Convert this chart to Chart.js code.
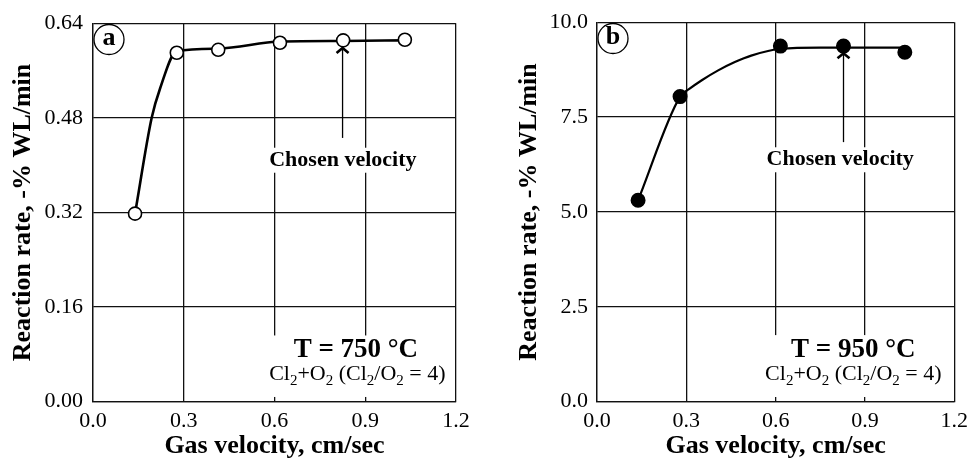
<!DOCTYPE html>
<html>
<head>
<meta charset="utf-8">
<script src="https://cdn.jsdelivr.net/npm/chart.js@4.4.1/dist/chart.umd.min.js"></script>
<style>
body{margin:0;background:#fff;}
.panel{position:absolute;top:0;width:487px;height:464px;}
</style>
</head>
<body>
<div class="panel" style="left:0"><canvas id="graficoA"></canvas></div>
<div class="panel" style="left:487px"><canvas id="graficoB"></canvas></div>
<script>

// panel a: T = 750 °C (measured points)
const velocidadA = [0.139, 0.277, 0.414, 0.618, 0.827, 1.031];
const tasaA = [0.318, 0.590, 0.595, 0.607, 0.611, 0.612];

// panel a: drawn curve
const curvaVelA = [0.139, 0.194, 0.222, 0.277, 0.414, 0.618, 0.827, 1.031];
const curvaTasaA = [0.318, 0.480, 0.530, 0.593, 0.597, 0.609, 0.610, 0.611];

// panel b: T = 950 °C (measured points)
const velocidadB = [0.138, 0.279, 0.616, 0.828, 1.034];
const tasaB = [5.31, 8.04, 9.37, 9.37, 9.21];

// panel b: drawn curve
const curvaVelB = [0.138, 0.279, 0.31, 0.352, 0.407, 0.463, 0.518, 0.617, 0.75, 0.83, 1.03];
const curvaTasaB = [5.31, 8.04, 8.24, 8.47, 8.73, 8.95, 9.12, 9.30, 9.33, 9.33, 9.33];

const ticksX = ["0.0", "0.3", "0.6", "0.9", "1.2"];
const ticksYA = ["0.00", "0.16", "0.32", "0.48", "0.64"];
const ticksYB = ["0.0", "2.5", "5.0", "7.5", "10.0"];

const fuente = "'Liberation Serif', 'Times New Roman', serif";

function puntos(xs, ys){
    return xs.map((x, i) => ({x: x, y: ys[i]}));
}

function textoQuimico(ctx, cx, y){
    const partes = [
        ["Cl", 0], ["2", 1], ["+O", 0], ["2", 1],
        [" (Cl", 0], ["2", 1], ["/O", 0], ["2", 1], [" = 4)", 0]
    ];
    const normal = "22px " + fuente;
    const sub = "15px " + fuente;
    let total = 0;
    partes.forEach(p => {
        ctx.font = p[1] ? sub : normal;
        total += ctx.measureText(p[0]).width;
    });
    let x = cx - total / 2;
    ctx.textAlign = "left";
    ctx.textBaseline = "alphabetic";
    partes.forEach(p => {
        ctx.font = p[1] ? sub : normal;
        ctx.fillText(p[0], x, p[1] ? y + 5 : y);
        x += ctx.measureText(p[0]).width;
    });
}

const notas = {
    id: "notas",
    beforeDatasetsDraw(chart, args, op){
        const ctx = chart.ctx;
        const area = chart.chartArea;
        const px = v => chart.scales.x.getPixelForValue(v);
        const py = v => chart.scales.y.getPixelForValue(v);
        ctx.save();

        // white box under the temperature text
        ctx.fillStyle = "#fff";
        ctx.fillRect(
            px(op.caja[0]), py(op.caja[3]),
            px(op.caja[1]) - px(op.caja[0]),
            py(op.caja[2]) - py(op.caja[3])
        );

        // chosen velocity label
        ctx.font = "bold 22px " + fuente;
        const w = ctx.measureText("Chosen velocity").width;
        const tx = px(op.texto[0]);
        const ty = py(op.texto[1]);
        ctx.fillRect(tx - w / 2 - 3, ty - 18, w + 6, 25);
        ctx.fillStyle = "#000";
        ctx.textAlign = "center";
        ctx.textBaseline = "alphabetic";
        ctx.fillText("Chosen velocity", tx, ty);

        // arrow
        const ax = px(op.flecha[0]);
        const ab = py(op.flecha[1]);
        const at = py(op.flecha[2]);
        ctx.strokeStyle = "#000";
        ctx.lineWidth = 1.3;
        ctx.beginPath();
        ctx.moveTo(ax, ab);
        ctx.lineTo(ax, at);
        ctx.stroke();
        ctx.lineWidth = 2.6;
        ctx.beginPath();
        ctx.moveTo(ax - 6, at + 5);
        ctx.lineTo(ax, at);
        ctx.lineTo(ax + 6, at + 5);
        ctx.stroke();

        // temperature and gas
        ctx.font = "bold 27px " + fuente;
        ctx.textAlign = "center";
        ctx.fillText(op.temp, px(op.tempPos[0]), py(op.tempPos[1]));
        textoQuimico(ctx, px(op.gasPos[0]), py(op.gasPos[1]));

        // circled letter
        ctx.lineWidth = 1.3;
        ctx.beginPath();
        ctx.arc(area.left + 16, area.top + 16.3, 15, 0, Math.PI * 2);
        ctx.fillStyle = "#fff";
        ctx.fill();
        ctx.stroke();
        ctx.fillStyle = "#000";
        ctx.font = "bold 26px " + fuente;
        ctx.textAlign = "center";
        ctx.textBaseline = "middle";
        ctx.fillText(op.letra, area.left + 16, area.top + 15);

        ctx.restore();
    }
};

function crearGrafico(id, cfg){

    new Chart(

        document.getElementById(id),

        {

            type: "scatter",

            data: {
                datasets: [
                    {
                        data: puntos(cfg.vel, cfg.tasa),
                        showLine: false,
                        pointRadius: cfg.radio,
                        pointBackgroundColor: cfg.relleno,
                        pointBorderColor: "#000",
                        pointBorderWidth: 1.6,
                        order: 0
                    },
                    {
                        data: puntos(cfg.curvaVel, cfg.curvaTasa),
                        showLine: true,
                        pointRadius: 0,
                        borderColor: "#000",
                        borderWidth: cfg.grosor,
                        cubicInterpolationMode: "monotone",
                        order: 1
                    }
                ]
            },

            options: {

                responsive: true,
                maintainAspectRatio: false,
                animation: false,

                layout: {
                    padding: {left: 0, top: 21.7, right: cfg.derecha, bottom: 0}
                },

                plugins: {
                    legend: {display: false},
                    tooltip: {enabled: false},
                    notas: cfg.notas
                },

                scales: {

                    x: {
                        type: "linear",
                        min: 0,
                        max: 1.2,
                        afterBuildTicks: s => {
                            s.ticks = ticksX.map(t => ({value: parseFloat(t)}));
                        },
                        afterFit: s => {
                            s.height = 62.3;
                        },
                        ticks: {
                            callback: (v, i) => ticksX[i],
                            color: "#000",
                            font: {family: fuente, size: 22},
                            padding: 6,
                            maxRotation: 0,
                            autoSkip: false
                        },
                        grid: {color: "#111", lineWidth: 1.3, drawTicks: false},
                        border: {color: "#111", width: 1.3},
                        title: {
                            display: true,
                            text: "Gas velocity, cm/sec",
                            color: "#000",
                            font: {family: fuente, size: 26, weight: "bold"},
                            padding: {bottom: 2}
                        }
                    },

                    y: {
                        type: "linear",
                        min: 0,
                        max: cfg.ymax,
                        afterBuildTicks: s => {
                            s.ticks = cfg.ticksY.map(t => ({value: parseFloat(t)}));
                        },
                        afterFit: s => {
                            s.width = cfg.izquierda;
                        },
                        ticks: {
                            callback: (v, i) => cfg.ticksY[i],
                            color: "#000",
                            font: {family: fuente, size: 22},
                            padding: cfg.padTick
                        },
                        grid: {color: "#111", lineWidth: 1.3, drawTicks: false},
                        border: {color: "#111", width: 1.3},
                        title: {
                            display: true,
                            text: "Reaction rate, -% WL/min",
                            color: "#000",
                            font: {family: fuente, size: 26, weight: "bold"},
                            padding: {top: cfg.padTitulo}
                        }
                    }

                }

            },

            plugins: [notas]

        }

    );

}

window.onload = () => {

    crearGrafico("graficoA", {
        vel: velocidadA,
        tasa: tasaA,
        curvaVel: curvaVelA,
        curvaTasa: curvaTasaA,
        radio: 6.5,
        relleno: "#fff",
        grosor: 2.6,
        ymax: 0.64,
        ticksY: ticksYA,
        izquierda: 93,
        derecha: 31,
        padTick: 10,
        padTitulo: 8,
        notas: {
            caja: [0.569, 1.187, 0.008, 0.112],
            texto: [0.826, 0.399],
            flecha: [0.825, 0.446, 0.598],
            temp: "T = 750 °C",
            tempPos: [0.869, 0.076],
            gasPos: [0.874, 0.0365],
            letra: "a"
        }
    });

    crearGrafico("graficoB", {
        vel: velocidadB,
        tasa: tasaB,
        curvaVel: curvaVelB,
        curvaTasa: curvaTasaB,
        radio: 6.7,
        relleno: "#000",
        grosor: 2.2,
        ymax: 10,
        ticksY: ticksYB,
        izquierda: 110,
        derecha: 14.7,
        padTick: 9,
        padTitulo: 27,
        notas: {
            caja: [0.556, 1.186, 0.124, 1.755],
            texto: [0.817, 6.23],
            flecha: [0.828, 6.84, 9.18],
            temp: "T = 950 °C",
            tempPos: [0.861, 1.184],
            gasPos: [0.861, 0.571],
            letra: "b"
        }
    });

};
</script>
</body>
</html>
